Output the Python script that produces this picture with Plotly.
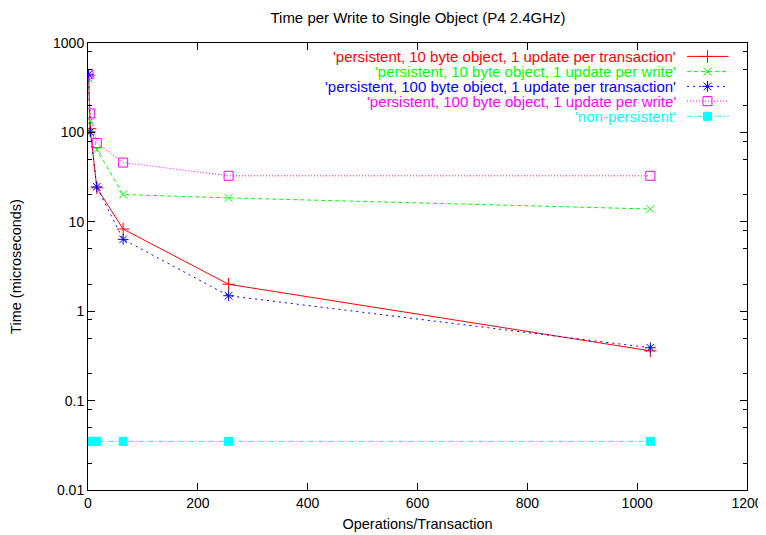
import plotly.graph_objects as go

# ---------------- data ----------------
ops = [1, 4, 16, 64, 256, 1024]
p10_txn = [430, 110, 24, 8.3, 2.0, 0.36]
p10_write = [400, 133, 64, 20.2, 18.5, 13.9]
p100_txn = [447, 101, 24.6, 6.36, 1.49, 0.39]
p100_write = [447, 163, 76, 46, 32.7, 32.7]
non_persistent = [0.035, 0.035, 0.035, 0.035, 0.035, 0.035]

names = [
    "'persistent, 10 byte object, 1 update per transaction'",
    "'persistent, 10 byte object, 1 update per write'",
    "'persistent, 100 byte object, 1 update per transaction'",
    "'persistent, 100 byte object, 1 update per write'",
    "'non-persistent'",
]
series = [p10_txn, p10_write, p100_txn, p100_write, non_persistent]
colors = ["#ff0000", "#00ff00", "#0000ff", "#ff00ff", "#00ffff"]
dashes = ["solid", "4px,3px", "2px,4px", "1px,2px", "5px,2px,1px,2px"]
symbols = ["cross-thin", "x-thin", "asterisk", "square-open", "square"]
sizes = [9, 8, 9, 9, 8]

x_ticks = [0, 200, 400, 600, 800, 1000, 1200]
y_ticks = [0.01, 0.1, 1, 10, 100, 1000]
y_tick_text = ["0.01", "0.1", "1", "10", "100", "1000"]
y_minor = [m * 10 ** e for e in range(-2, 3) for m in (2, 5, 8)]

FONT = "Liberation Sans, Arial, sans-serif"

# page body has an 8px margin; figure sized so the plot box lands where the
# reference has it (x 88..747, y 43..490 in page pixels)
W, H = 758, 527
fig = go.Figure()
for name, ys, c, d, s, sz in zip(names, series, colors, dashes, symbols, sizes):
    fig.add_trace(go.Scatter(
        x=ops, y=ys, mode="lines+markers", name=name, showlegend=False,
        line=dict(color=c, width=1, dash=d),
        marker=dict(symbol=s, size=sz, color=c, line=dict(color=c, width=1)),
    ))

# custom gnuplot-style legend (text right-aligned, sample to the right)
LEG_TEXT_X = 0.895
LEG_X0, LEG_X1, LEG_XM = 0.909, 0.972, 0.94
LEG_Y = [0.970, 0.936, 0.903, 0.870, 0.836]
for name, c, d, s, sz, ly in zip(names, colors, dashes, symbols, sizes, LEG_Y):
    fig.add_trace(go.Scatter(
        x=[LEG_X0, LEG_X1], y=[ly, ly], mode="lines", xaxis="x2", yaxis="y2",
        showlegend=False, hoverinfo="skip",
        line=dict(color=c, width=1, dash=d),
    ))
    fig.add_trace(go.Scatter(
        x=[LEG_XM], y=[ly], mode="markers", xaxis="x2", yaxis="y2",
        showlegend=False, hoverinfo="skip",
        marker=dict(symbol=s, size=sz, color=c, line=dict(color=c, width=1)),
    ))
    fig.add_annotation(
        x=LEG_TEXT_X, y=ly, xref="paper", yref="paper", text=name,
        showarrow=False, xanchor="right", yanchor="middle",
        font=dict(family=FONT, size=15, color=c),
    )

fig.update_layout(
    width=W, height=H,
    margin=dict(l=80, r=19, t=35, b=45, autoexpand=False),
    paper_bgcolor="white", plot_bgcolor="white",
    font=dict(family=FONT, size=14, color="black"),
    title=dict(text="Time per Write to Single Object (P4 2.4GHz)",
               x=410 / W, xanchor="center",
               y=1 - 10 / H, yanchor="middle",
               font=dict(family=FONT, size=15, color="black")),
    xaxis=dict(
        range=[0, 1200], tickvals=x_ticks, ticks="inside", ticklen=7,
        tickcolor="black", showline=True, linecolor="black", linewidth=1,
        mirror="ticks", showgrid=False, zeroline=False, automargin=False,
        tickfont=dict(size=14),
        title=dict(text="Operations/Transaction", standoff=9,
                   font=dict(size=14.5)),
    ),
    yaxis=dict(
        type="log", range=[-2, 3], tickvals=y_ticks, ticktext=y_tick_text,
        ticks="inside", ticklen=7, tickcolor="black", showline=True,
        linecolor="black", linewidth=1, mirror="ticks", showgrid=False,
        zeroline=False, automargin=False, tickfont=dict(size=14),
        minor=dict(tickmode="array", tickvals=y_minor, ticks="inside",
                   ticklen=4, tickcolor="black", showgrid=False),
        title=dict(text="Time (microseconds)", standoff=27,
                   font=dict(size=14.5)),
    ),
    xaxis2=dict(overlaying="x", range=[0, 1], visible=False),
    yaxis2=dict(overlaying="y", range=[0, 1], visible=False),
)

fig.write_html("out.html")
